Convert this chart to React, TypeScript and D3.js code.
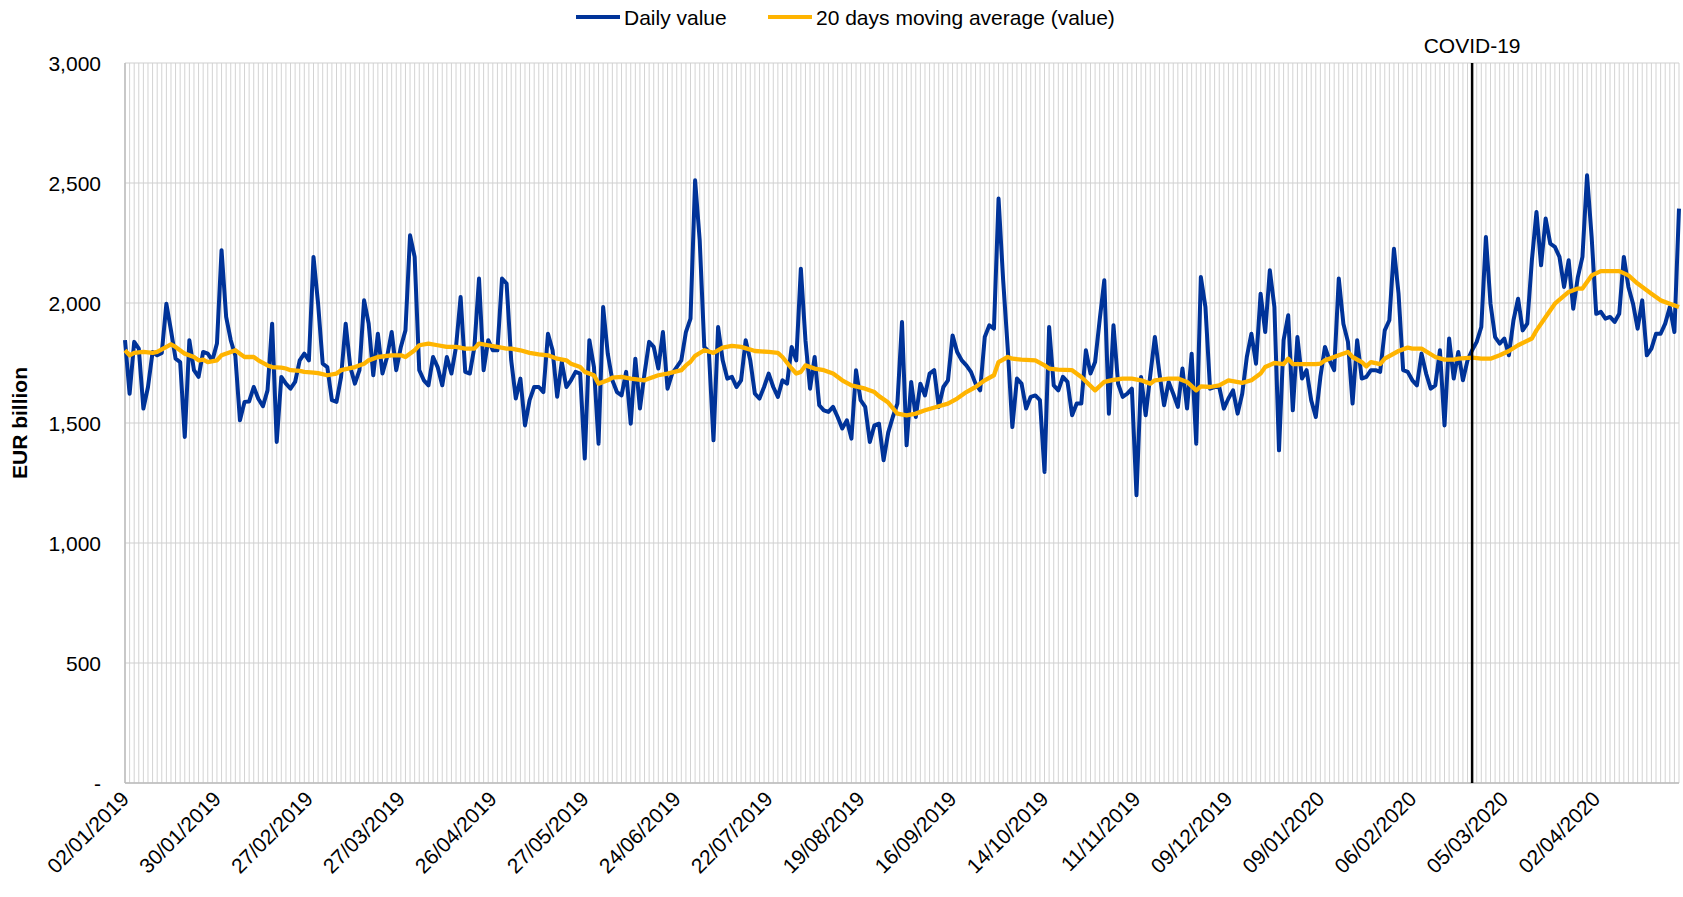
import React, { FC } from 'react'
import * as d3 from 'd3'

// daily values, EUR billion, one per TARGET2 business day from 02/01/2019
const dailyValues = [
	1845, 1622, 1838, 1810, 1560, 1650, 1796, 1782, 1792, 1997,
	1886, 1768, 1754, 1442, 1845, 1720, 1692, 1796, 1789, 1761,
	1831, 2220, 1942, 1845, 1780, 1511, 1588, 1590, 1650, 1601,
	1570, 1636, 1914, 1421, 1692, 1664, 1643, 1671, 1761, 1789,
	1761, 2192, 1997,
	1747, 1733, 1595, 1588, 1692, 1914, 1733, 1664, 1720, 2011,
	1914, 1699, 1872, 1706, 1775, 1879, 1720, 1817, 1886, 2282,
	2192, 1720, 1678, 1657, 1775, 1733, 1657, 1775, 1706, 1817,
	2025, 1713, 1706, 1817, 2102, 1720, 1845, 1803, 1803, 2102,
	2081,
	1761, 1602, 1685, 1490, 1595, 1650, 1650, 1629, 1872, 1803,
	1609, 1754, 1650, 1678, 1713, 1706, 1352, 1845, 1733, 1414,
	1983, 1789, 1678, 1629, 1615, 1713, 1497, 1768, 1560, 1706,
	1838, 1817, 1727, 1879, 1643, 1706, 1733, 1761, 1879, 1935,
	2511,
	2261, 1817, 1796, 1428, 1900, 1761, 1685, 1692, 1650, 1678,
	1845, 1761, 1622, 1602, 1650, 1706, 1650, 1609, 1678, 1664,
	1817, 1761, 2143, 1845, 1643, 1775, 1574, 1553, 1546, 1567,
	1525, 1477, 1511, 1435, 1720, 1595, 1567, 1421, 1490, 1497,
	1345, 1460,
	1525, 1581, 1921, 1407, 1671, 1525, 1664, 1615, 1706, 1720,
	1567, 1650, 1678, 1865, 1796, 1761, 1740, 1713, 1664, 1636,
	1858, 1907, 1893, 2435, 2095, 1810, 1483, 1685, 1664, 1560,
	1609, 1615, 1595, 1296, 1900, 1657, 1636, 1692, 1671, 1532,
	1581,
	1581, 1803, 1706, 1754, 1930, 2095, 1539, 1907, 1664, 1609,
	1622, 1643, 1199, 1692, 1532, 1699, 1858, 1706, 1574, 1671,
	1622, 1567, 1727, 1560, 1789, 1414, 2108, 1983, 1643, 1650,
	1650, 1560, 1602, 1636, 1539, 1622, 1775, 1872, 1747, 2039,
	1879, 2136,
	1983, 1386, 1845, 1949, 1553, 1858, 1685, 1720, 1595, 1525,
	1692, 1817, 1761, 1720, 2102, 1914, 1838, 1581, 1845, 1685,
	1692, 1720, 1720, 1713, 1886, 1928, 2226, 2039, 1720, 1713,
	1678, 1657, 1789, 1706, 1643, 1657, 1803, 1490, 1852, 1685,
	1796,
	1678, 1761, 1803, 1838, 1900, 2275, 1997, 1858, 1831, 1852,
	1782, 1928, 2018, 1886, 1914, 2178, 2379, 2157, 2352, 2247,
	2234, 2192, 2067, 2178, 1976, 2108, 2192, 2532, 2275, 1955,
	1963, 1935, 1942, 1921, 1955, 2192, 2067, 1997, 1893, 2011,
	1782, 1810, 1872, 1872, 1914, 1983, 1879, 2393
]

// 20 days moving average at these day numbers
const maIndex = [
	0, 1, 2, 4, 6, 7, 9, 10, 11, 13, 15, 16, 17, 18, 20, 21, 23, 24, 25, 26,
	28, 29, 31, 32, 34, 35, 36, 38, 39, 41, 42, 44, 46, 47, 50, 52, 53, 55, 58, 60,
	61, 63, 64, 66, 68, 70, 72, 74, 76, 77, 79, 81, 83, 84, 86, 88, 90, 92, 94, 96,
	97, 99, 100, 102, 103, 105, 106, 108, 110, 113, 114, 116, 118, 121, 122, 123, 124, 126, 128, 130,
	132, 134, 136, 137, 140, 142, 143, 145, 146, 147, 148, 150, 152, 154, 156, 158, 161, 163, 164, 166,
	168, 170, 172, 174, 177, 179, 181, 183, 185, 187, 189, 190, 192, 193, 195, 198, 200, 201, 203, 206,
	208, 211, 213, 215, 217, 219, 221, 223, 224, 227, 229, 231, 233, 234, 236, 238, 240, 243, 245, 247,
	248, 250, 252, 253, 254, 256, 259, 260, 261, 264, 266, 267, 269, 270, 271, 273, 274, 277, 279, 280,
	282, 285, 287, 289, 290, 293, 295, 297, 299, 301, 303, 306, 307, 309, 311, 314, 316, 317, 319, 321,
	323, 325, 327, 329, 332, 334, 336, 338
]
const maValues = [
	1803, 1782, 1792, 1796, 1792, 1796, 1817, 1828, 1817, 1789, 1775, 1761, 1764, 1754, 1761, 1782, 1796, 1803, 1789, 1775,
	1775, 1761, 1740, 1733, 1731, 1727, 1720, 1717, 1713, 1710, 1708, 1699, 1706, 1720, 1733, 1747, 1761, 1775, 1782, 1782,
	1775, 1803, 1824, 1831, 1824, 1817, 1817, 1810, 1810, 1831, 1824, 1817, 1810, 1810, 1803, 1792, 1786, 1782, 1768, 1761,
	1747, 1733, 1713, 1699, 1664, 1678, 1689, 1692, 1685, 1678, 1685, 1699, 1706, 1720, 1740, 1755, 1780, 1803, 1792, 1814,
	1821, 1817, 1806, 1800, 1796, 1792, 1775, 1727, 1706, 1713, 1740, 1727, 1720, 1706, 1678, 1657, 1643, 1629, 1612, 1585,
	1539, 1532, 1539, 1553, 1570, 1581, 1602, 1629, 1650, 1678, 1699, 1754, 1775, 1768, 1764, 1761, 1740, 1727, 1722, 1720,
	1692, 1636, 1671, 1680, 1685, 1685, 1678, 1664, 1678, 1685, 1685, 1671, 1636, 1653, 1650, 1657, 1678, 1667, 1678, 1706,
	1733, 1750, 1745, 1768, 1745, 1745, 1745, 1747, 1761, 1782, 1796, 1775, 1754, 1736, 1754, 1745, 1768, 1800, 1814, 1810,
	1810, 1775, 1764, 1764, 1768, 1772, 1768, 1768, 1782, 1800, 1824, 1852, 1886, 1942, 1997, 2046, 2060, 2060, 2115, 2133,
	2133, 2133, 2115, 2081, 2039, 2011, 1997, 1983
]

const startDate = '2019-01-02'
const holidays = ['2019-04-19', '2019-04-22', '2019-05-01', '2019-12-25', '2019-12-26', '2020-01-01', '2020-04-10', '2020-04-13']
const tickLabels = [
	'02/01/2019', '30/01/2019', '27/02/2019', '27/03/2019', '26/04/2019', '27/05/2019',
	'24/06/2019', '22/07/2019', '19/08/2019', '16/09/2019', '14/10/2019', '11/11/2019',
	'09/12/2019', '09/01/2020', '06/02/2020', '05/03/2020', '02/04/2020'
]
const yTicks = [0, 500, 1000, 1500, 2000, 2500, 3000]
const covidDate = '25/02/2020'
const seriesNames = ['Daily value', '20 days moving average (value)']

const W = 1683
const H = 897
const left = 125
const right = 1679
const top = 63
const bottom = 783
const font = "'Liberation Sans', Arial, sans-serif"
const blue = '#003399'
const yellow = '#FFB400'

// business days calendar
const iso = d3.timeFormat('%Y-%m-%d')
const fmt = d3.timeFormat('%d/%m/%Y')
const holidaySet = new Set(holidays)
const dates: string[] = []
let cur = d3.timeParse('%Y-%m-%d')(startDate) as Date
while (dates.length < dailyValues.length) {
	const wd = cur.getDay()
	if (wd !== 0 && wd !== 6 && !holidaySet.has(iso(cur))) dates.push(fmt(cur))
	cur = d3.timeDay.offset(cur, 1)
}

const App: FC = () => {
	const x = d3.scalePoint<string>().domain(dates).range([left, right])
	const y = d3.scaleLinear().domain([0, 3000]).range([bottom, top])

	const dailyLine = d3
		.line<number>()
		.x((_, i) => x(dates[i]) as number)
		.y((v) => y(v))
	const maLine = d3
		.line<number>()
		.x((_, i) => x(dates[maIndex[i]]) as number)
		.y((v) => y(v))

	const covidX = x(covidDate) as number
	const yFmt = d3.format(',')

	return (
		<svg
			width={W}
			height={H}
			style={{ position: 'absolute', left: 0, top: 0, background: '#fff' }}
			fontFamily={font}
		>
			{/* grid */}
			<g>
				{dates.map((d) => (
					<line
						key={d}
						x1={x(d)}
						x2={x(d)}
						y1={top}
						y2={bottom}
						stroke="#D3D3D3"
						strokeWidth={1}
					/>
				))}
				{yTicks.map((t) => (
					<line
						key={t}
						x1={left}
						x2={right}
						y1={y(t)}
						y2={y(t)}
						stroke="#CFCFCF"
						strokeWidth={1.2}
					/>
				))}
				<line x1={left} x2={left} y1={top} y2={bottom} stroke="#BDBDBD" strokeWidth={1.5} />
				<line x1={left} x2={right} y1={bottom} y2={bottom} stroke="#BDBDBD" strokeWidth={1.5} />
			</g>

			{/* series */}
			<path d={dailyLine(dailyValues) || ''} fill="none" stroke={blue} strokeWidth={4} strokeLinejoin="round" />
			<path d={maLine(maValues) || ''} fill="none" stroke={yellow} strokeWidth={4.3} strokeLinejoin="round" />

			{/* COVID marker */}
			<line x1={covidX} x2={covidX} y1={top} y2={bottom} stroke="#000" strokeWidth={2.5} />
			<text x={covidX} y={45} textAnchor="middle" dominantBaseline="central" fontSize={21}>
				COVID-19
			</text>

			{/* y axis */}
			{yTicks.map((t) => (
				<text key={t} x={101} y={y(t)} textAnchor="end" dominantBaseline="central" fontSize={21}>
					{t === 0 ? '-' : yFmt(t)}
				</text>
			))}
			<text
				transform={`translate(19,${y(1500)}) rotate(-90)`}
				textAnchor="middle"
				dominantBaseline="central"
				fontSize={21}
				fontWeight="bold"
			>
				EUR billion
			</text>

			{/* x axis */}
			{tickLabels.map((t) => (
				<text
					key={t}
					transform={`translate(${x(t)},795) rotate(-45)`}
					textAnchor="end"
					dominantBaseline="central"
					fontSize={21}
				>
					{t}
				</text>
			))}

			{/* legend */}
			<g fontSize={21}>
				<line x1={576} x2={620} y1={17} y2={17} stroke={blue} strokeWidth={4} />
				<text x={624} y={17} dominantBaseline="central">{seriesNames[0]}</text>
				<line x1={768} x2={812} y1={17} y2={17} stroke={yellow} strokeWidth={4} />
				<text x={816} y={17} dominantBaseline="central">{seriesNames[1]}</text>
			</g>
		</svg>
	)
}

export default App
